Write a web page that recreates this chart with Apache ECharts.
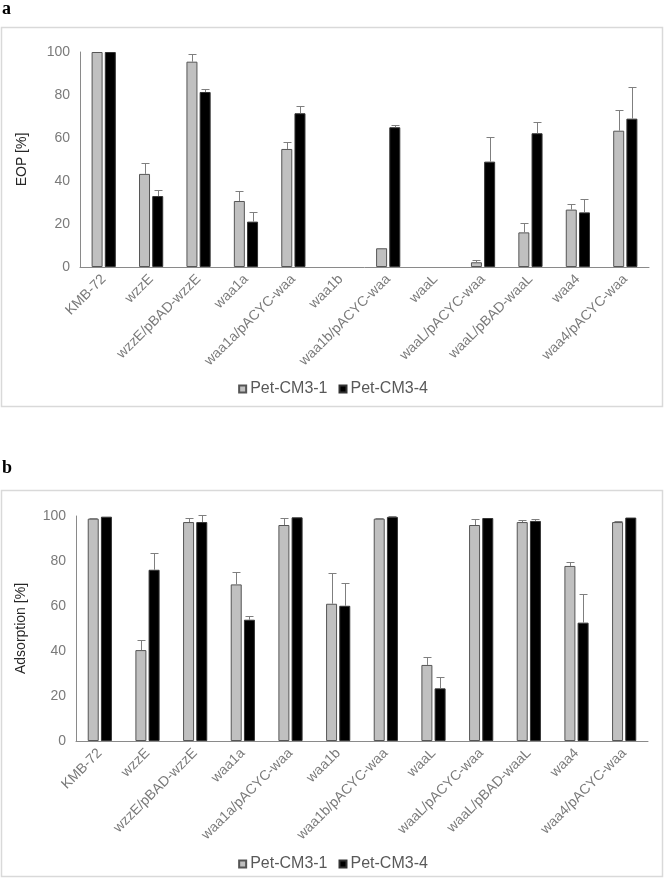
<!DOCTYPE html>
<html>
<head>
<meta charset="utf-8">
<script src="https://cdn.jsdelivr.net/npm/echarts@6/dist/echarts.min.js"></script>
<style>
html,body{margin:0;padding:0;background:#fff;}
#main{width:666px;height:880px;}
</style>
</head>
<body>
<div id="main"></div>
<script>
const categories = ['KMB-72','wzzE','wzzE/pBAD-wzzE','waa1a','waa1a/pACYC-waa','waa1b','waa1b/pACYC-waa','waaL','waaL/pACYC-waa','waaL/pBAD-waaL','waa4','waa4/pACYC-waa'];
const seriesNames = ['Pet-CM3-1','Pet-CM3-4'];
const yTicks = [0,20,40,60,80,100];

// Panel a: EOP [%]
const eopCM31 = [100, 43.3, 95.5, 30.7, 54.9, 0, 8.7, 0, 2.2, 16.1, 26.7, 63.4];
const eopCM31Err = [0, 4.9, 3.4, 4.5, 3.4, 0, 0.3, 0, 1.2, 4.5, 2.5, 9.8];
const eopCM34 = [100, 33.0, 81.4, 21.1, 71.5, 0, 65.0, 0, 49.0, 62.2, 25.4, 69.0];
const eopCM34Err = [0, 2.7, 1.5, 4.3, 3.4, 0, 1.2, 0, 11.6, 5.1, 6.1, 14.7];

// Panel b: Adsorption [%]
const adsCM31 = [98.8, 40.4, 97.3, 69.6, 96.0, 61.0, 98.8, 33.8, 96.0, 97.3, 77.8, 97.3];
const adsCM31Err = [0.3, 4.3, 2.0, 5.3, 3.3, 13.5, 0.2, 3.4, 2.5, 1.1, 1.9, 0.6];
const adsCM34 = [99.7, 76.1, 97.3, 53.9, 99.4, 60.1, 99.6, 23.4, 99.1, 97.8, 52.6, 99.3];
const adsCM34Err = [0, 7.5, 3.1, 1.5, 0, 10.3, 0.2, 4.9, 0, 0.9, 12.7, 0];

const chart = echarts.init(document.getElementById('main'), null, {renderer:'canvas'});

const FONT = 'Liberation Sans, Arial, sans-serif';
const AXIS_COLOR = '#8a8a8a';
const LABEL_COLOR = '#7a7a7a';
const BAR_W = 11;
const OFFSET = 6.6;

function errRender(offset){
  return function(params, api){
    const i = api.value(0), v = api.value(1), e = api.value(2);
    if (!e) return null;
    const b = api.coord([i, v]);
    const t = api.coord([i, v + e]);
    const x = Math.round(b[0] + offset) + 0.5;
    const yt = Math.round(t[1]) + 0.5;
    const st = {stroke:'#7f7f7f', lineWidth:1};
    return {type:'group', children:[
      {type:'line', shape:{x1:x, y1:b[1], x2:x, y2:yt}, style:st},
      {type:'line', shape:{x1:x-4, y1:yt, x2:x+4, y2:yt}, style:st}
    ]};
  };
}
function errData(vals, errs){ return vals.map((v,i)=>[i, v, errs[i]]); }

function xAxisDef(g){
  return {type:'category', gridIndex:g, data:categories,
    axisLine:{lineStyle:{color:AXIS_COLOR, width:1}}, axisTick:{show:false},
    axisLabel:{rotate:45, interval:0, fontSize:14, color:LABEL_COLOR, fontFamily:FONT, margin:10}};
}
function yAxisDef(g, name, gap){
  return {type:'value', gridIndex:g, min:yTicks[0], max:yTicks[yTicks.length-1], interval:20,
    axisLine:{show:true, lineStyle:{color:AXIS_COLOR, width:1}}, axisTick:{show:false},
    splitLine:{show:false},
    axisLabel:{fontSize:14, color:LABEL_COLOR, fontFamily:FONT, margin:10},
    name:name, nameLocation:'middle', nameGap:gap,
    nameTextStyle:{fontSize:14, color:'#262626', fontFamily:FONT}};
}
const grayStyle = {color:'#c0c0c0', borderColor:'#555555', borderWidth:1};
const blackStyle = {color:'#000000', borderColor:'#333333', borderWidth:1};

function bars(g, vals, style, name){
  const data = vals.map(v => v === 0 ? {value:0, itemStyle:{borderWidth:0}} : v);
  return {type:'bar', name:name, xAxisIndex:g, yAxisIndex:g, data:data, barWidth:BAR_W, barGap:'20%',
    itemStyle:style, emphasis:{disabled:true}, animation:false};
}
function errs(g, vals, e, off){
  return {type:'custom', xAxisIndex:g, yAxisIndex:g, data:errData(vals, e), renderItem:errRender(off),
    encode:{x:0, y:1}, clip:false, z:5, silent:true, animation:false};
}
function legendDef(top){
  return {top:top, left:'center', data:seriesNames, icon:'rect', itemWidth:7, itemHeight:7, itemGap:11,
    textStyle:{fontSize:16, color:'#595959', fontFamily:FONT, padding:[0,0,0,-1]}, selectedMode:false};
}

chart.setOption({
  animation:false,
  backgroundColor:'#ffffff',
  grid:[
    {left:80, top:52, width:569, height:215},
    {left:76, top:516, width:572, height:225}
  ],
  xAxis:[xAxisDef(0), xAxisDef(1)],
  yAxis:[yAxisDef(0, 'EOP [%]', 51), yAxisDef(1, 'Adsorption [%]', 48)],
  legend:[legendDef(376), legendDef(851)],
  series:[
    bars(0, eopCM31, grayStyle, seriesNames[0]),
    bars(0, eopCM34, blackStyle, seriesNames[1]),
    errs(0, eopCM31, eopCM31Err, -OFFSET),
    errs(0, eopCM34, eopCM34Err, OFFSET),
    bars(1, adsCM31, grayStyle, seriesNames[0]),
    bars(1, adsCM34, blackStyle, seriesNames[1]),
    errs(1, adsCM31, adsCM31Err, -OFFSET),
    errs(1, adsCM34, adsCM34Err, OFFSET)
  ],
  graphic:[
    {type:'rect', shape:{x:1.5, y:27.5, width:661, height:379}, style:{fill:'none', stroke:'#d9d9d9', lineWidth:1.5}, z:-1},
    {type:'rect', shape:{x:1.5, y:490.5, width:661, height:386}, style:{fill:'none', stroke:'#d9d9d9', lineWidth:1.5}, z:-1},
    {type:'text', left:2, top:0, style:{text:'a', font:'bold 18px "Liberation Serif", "Times New Roman", serif', fill:'#000'}},
    {type:'text', left:2, top:459, style:{text:'b', font:'bold 18px "Liberation Serif", "Times New Roman", serif', fill:'#000'}}
  ]
});
</script>
</body>
</html>
